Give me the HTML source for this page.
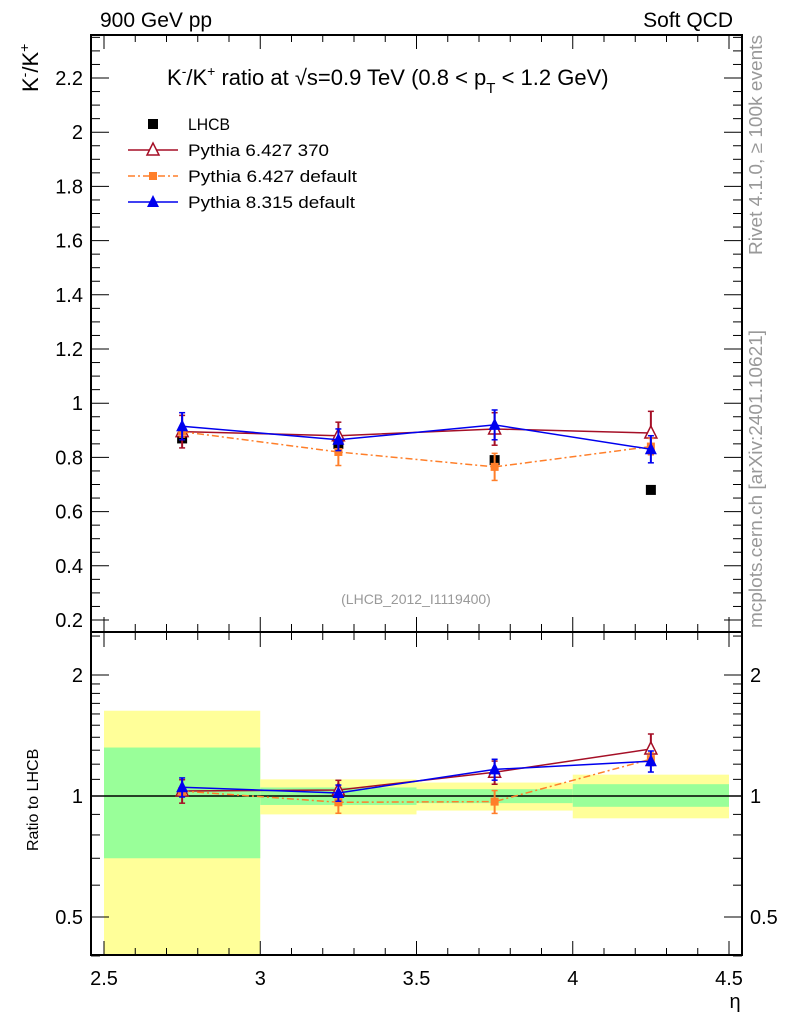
<!DOCTYPE html>
<html><head><meta charset="utf-8"><style>
html,body{margin:0;padding:0;background:#fff}
svg{display:block;font-family:"Liberation Sans",sans-serif}
</style></head><body>
<svg id="c" width="786" height="1024" xmlns="http://www.w3.org/2000/svg"></svg>
<script>
const etaCenters=[2.75,3.25,3.75,4.25];
const binEdges=[2.5,3.0,3.5,4.0,4.5];
const lhcb=[0.87,0.85,0.79,0.68];
const lhcbErr=[0.01,0.01,0.01,0.01];
const p6_370=[0.895,0.88,0.905,0.89];
const p6_370Err=[0.06,0.05,0.06,0.08];
const p6def=[0.895,0.82,0.765,0.84];
const p6defErr=[0.02,0.05,0.05,0.03];
const p8=[0.915,0.865,0.92,0.83];
const p8Err=[0.05,0.04,0.055,0.05];
const greenHi=[1.32,1.05,1.04,1.07];
const greenLo=[0.70,0.95,0.96,0.94];
const yellowHi=[1.63,1.10,1.08,1.13];
const yellowLo=[0.40,0.90,0.92,0.88];
const mainTicks=[0.2,0.4,0.6,0.8,1,1.2,1.4,1.6,1.8,2,2.2];
const xTicks=[2.5,3,3.5,4,4.5];
const ratioTicks=[0.5,1,2];

const NS="http://www.w3.org/2000/svg";
const svg=document.getElementById('c');
const L=91,R=742,T=35,MB=632,B=955;
const X=v=>104+(v-2.5)*312.5;
const Y=v=>78+(2.2-v)*271;
const YR=v=>796-121*Math.log2(v);
function el(tag,at,parent){const e=document.createElementNS(NS,tag);for(const k in at)e.setAttribute(k,at[k]);(parent||svg).appendChild(e);return e;}
function txt(x,y,s,at){const e=el('text',Object.assign({x:x,y:y},at||{}));e.textContent=s;return e;}

for(let i=0;i<4;i++){
  const yb=el('rect',{x:X(binEdges[i]),y:YR(yellowHi[i]),width:X(binEdges[i+1])-X(binEdges[i]),height:Math.min(B,YR(yellowLo[i]))-YR(yellowHi[i]),fill:'#ffff99'});
  
  
  const gb=el('rect',{x:X(binEdges[i]),y:YR(greenHi[i]),width:X(binEdges[i+1])-X(binEdges[i]),height:YR(greenLo[i])-YR(greenHi[i]),fill:'#99ff99'});
  
  
}
el('line',{x1:L,x2:R,y1:YR(1),y2:YR(1),stroke:'#000','stroke-width':1.5});

el('rect',{x:L,y:T,width:R-L,height:MB-T,fill:'none',stroke:'#000','stroke-width':2});
el('rect',{x:L,y:MB,width:R-L,height:B-MB,fill:'none',stroke:'#000','stroke-width':2});

for(let v=2.5;v<=4.5001;v+=0.1){
  const major=Math.abs(v*2-Math.round(v*2))<1e-6;const len=major?14:7;
  el('line',{x1:X(v),x2:X(v),y1:T,y2:T+len,stroke:'#000'});
  el('line',{x1:X(v),x2:X(v),y1:B,y2:B-len,stroke:'#000'});
  el('line',{x1:X(v),x2:X(v),y1:MB+1,y2:MB+1+len,stroke:'#000'});
  el('line',{x1:X(v),x2:X(v),y1:MB-1,y2:MB-1-len,stroke:'#000'});
}
xTicks.forEach(v=>{const t=txt(X(v),985,String(v),{'font-size':20,'text-anchor':'middle'});});
txt(735,1008,'η',{'font-size':20,'text-anchor':'middle'});

for(let v=0.2;v<=2.35;v+=0.05){
  const y=Y(v);if(y<T||y>MB)continue;
  const major=Math.abs(v*5-Math.round(v*5))<1e-6;const len=major?18:9;
  el('line',{x1:L,x2:L+len,y1:y,y2:y,stroke:'#000'});
  el('line',{x1:R,x2:R-len,y1:y,y2:y,stroke:'#000'});
}
mainTicks.forEach(v=>{const t=txt(83,Y(v)+7,String(v),{'font-size':20,'text-anchor':'end'});});
const rminor=[0.4,0.5,0.6,0.7,0.8,0.9,1,1.1,1.2,1.3,1.4,1.5,1.6,1.7,1.8,1.9,2,2.5];
rminor.forEach(v=>{const y=YR(v);const len=ratioTicks.includes(v)?18:9;
  el('line',{x1:L,x2:L+len,y1:y,y2:y,stroke:'#000'});el('line',{x1:R,x2:R-len,y1:y,y2:y,stroke:'#000'});});
ratioTicks.forEach(v=>{txt(83,YR(v)+7,String(v),{'font-size':20,'text-anchor':'end'});txt(750,YR(v)+7,String(v),{'font-size':20});});

function series(vals,errs,color,marker,dash,name,fn){
  const g=el('g',{});
  
  
  const pts=vals.map((v,i)=>X(etaCenters[i])+','+fn(v,i)).join(' ');
  el('polyline',{points:pts,fill:'none',stroke:color,'stroke-width':1.5,'stroke-dasharray':dash||'none'},g);
  vals.forEach((v,i)=>{
    const x=X(etaCenters[i]);const y=fn(v,i);
    const y1=fn(v+errs[i],i),y2=fn(v-errs[i],i);
    el('line',{x1:x,x2:x,y1:y1,y2:y2,stroke:color,'stroke-width':2},g);
    el('line',{x1:x-3,x2:x+3,y1:y1,y2:y1,stroke:color,'stroke-width':1.5},g);
    el('line',{x1:x-3,x2:x+3,y1:y2,y2:y2,stroke:color,'stroke-width':1.5},g);
    drawMarker(g,marker,x,y,color);
  });
}
function drawMarker(g,m,x,y,c){
  if(m==='sq')el('rect',{x:x-5,y:y-5,width:10,height:10,fill:c},g);
  else if(m==='sqs')el('rect',{x:x-4,y:y-4,width:8,height:8,fill:c},g);
  else if(m==='tri')el('polygon',{points:`${x},${y-7} ${x-6},${y+5} ${x+6},${y+5}`,fill:c},g);
  else el('polygon',{points:`${x},${y-7} ${x-6},${y+5} ${x+6},${y+5}`,fill:'#fff',stroke:c,'stroke-width':1.5},g);
}
const lg=el('g',{});


lhcb.forEach((v,i)=>drawMarker(lg,'sq',X(etaCenters[i]),Y(v),'#000'));
const MC=[[p6_370,p6_370Err,'#a50f26','otri','','pythia6-370'],[p6def,p6defErr,'#ff7f2a','sqs','7 3 2 3','pythia6-default'],[p8,p8Err,'#0000ee','tri','','pythia8']];
MC.forEach(s=>series(s[0],s[1],s[2],s[3],s[4],s[5]+'-main',(v)=>Y(v)));
MC.forEach(s=>series(s[0],s[1],s[2],s[3],s[4],s[5]+'-ratio',(v,i)=>YR(v/lhcb[i])));

const leg=[['LHCB','#000','sq',''],['Pythia 6.427 370','#a50f26','otri',''],['Pythia 6.427 default','#ff7f2a','sqs','7 3 2 3'],['Pythia 8.315 default','#0000ee','tri','']];
const legW=[42,141,169,167];
leg.forEach((l,i)=>{
  const y=124+i*26;const g=el('g',{});
  
  
  if(i>0)el('line',{x1:128,x2:178,y1:y,y2:y,stroke:l[1],'stroke-width':1.5,'stroke-dasharray':l[3]||'none'},g);
  drawMarker(g,l[2],153,y,l[1]);
  const t=txt(188,y+6,l[0],{'font-size':17,textLength:legW[i],lengthAdjust:'spacingAndGlyphs'});g.appendChild(t);
});

txt(100,27,'900 GeV pp',{'font-size':21});
txt(733,27,'Soft QCD',{'font-size':21,'text-anchor':'end'});
const title=el('text',{x:167,y:85,'font-size':22,'text-anchor':'start'});

title.innerHTML='K<tspan dy="-9" font-size="14">-</tspan><tspan dy="9">/K</tspan><tspan dy="-9" font-size="14">+</tspan><tspan dy="9"> ratio at √s=0.9 TeV (0.8 &lt; p</tspan><tspan dy="8" font-size="15">T</tspan><tspan dy="-8"> &lt; 1.2 GeV)</tspan>';
const yt=el('text',{transform:'translate(38,92) rotate(-90)','font-size':22,'text-anchor':'start'});

yt.innerHTML='K<tspan dy="-9" font-size="14">-</tspan><tspan dy="9">/K</tspan><tspan dy="-9" font-size="14">+</tspan>';
txt(0,0,'Ratio to LHCB',{transform:'translate(38,851) rotate(-90)','font-size':16});
txt(416,604,'(LHCB_2012_I1119400)',{'font-size':14,fill:'#999','text-anchor':'middle'});
txt(0,0,'Rivet 4.1.0, ≥ 100k events',{transform:'translate(762,255) rotate(-90)','font-size':18,fill:'#999',textLength:220,lengthAdjust:'spacingAndGlyphs'});
txt(0,0,'mcplots.cern.ch [arXiv:2401.10621]',{transform:'translate(762,628) rotate(-90)','font-size':18,fill:'#999',textLength:298,lengthAdjust:'spacingAndGlyphs'});
</script>
</body></html>
